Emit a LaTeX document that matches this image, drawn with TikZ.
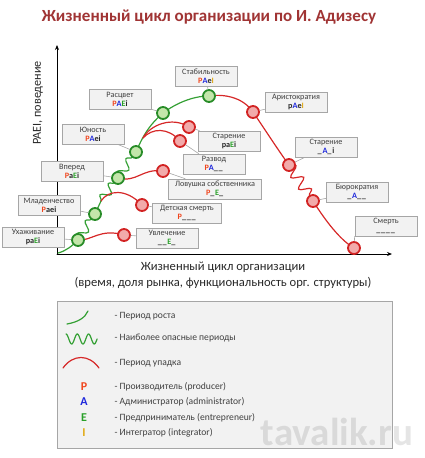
\documentclass[tikz,border=0pt]{standalone}
\usepackage{fontspec}
\setmainfont{Carlito}
\usetikzlibrary{arrows.meta,decorations.pathmorphing}

\definecolor{titlered}{RGB}{160,52,52}
\definecolor{grline}{RGB}{52,160,52}
\definecolor{grdark}{RGB}{40,140,40}
\definecolor{grfill}{RGB}{195,230,170}
\definecolor{rdline}{RGB}{214,40,40}
\definecolor{rddark}{RGB}{210,35,35}
\definecolor{rdfill}{RGB}{242,170,170}
\definecolor{boxfill}{RGB}{242,242,242}
\definecolor{boxline}{RGB}{166,166,166}
\definecolor{txtgray}{RGB}{64,64,64}
\definecolor{codegray}{RGB}{40,40,40}
\definecolor{cP}{RGB}{240,70,30}
\definecolor{cA}{RGB}{30,40,220}
\definecolor{cE}{RGB}{40,160,40}
\definecolor{cI}{RGB}{225,170,20}

\newcommand{\lP}{\textcolor{cP}{P}}
\newcommand{\lA}{\textcolor{cA}{A}}
\newcommand{\lE}{\textcolor{cE}{E}}
\newcommand{\lI}{\textcolor{cI}{I}}
\newcommand{\us}{\_\kern0.7pt}

\begin{document}
\begin{tikzpicture}[x=1pt,y=-1pt,line cap=round,
  growline/.style={draw=grline, line width=1.2pt},
  fadeline/.style={draw=rdline, line width=1.2pt},
  wig/.style 2 args={decorate, decoration={snake, segment length=#1, amplitude=#2}},
  gdot/.style={circle, draw=grdark, fill=grfill, line width=1.8pt, minimum size=12pt, inner sep=0pt},
  rdot/.style={circle, draw=rddark, fill=rdfill, line width=1.8pt, minimum size=12pt, inner sep=0pt},
  lbl/.style={draw=boxline, fill=boxfill, line width=0.7pt, minimum width=62pt, minimum height=20pt,
    inner sep=1pt, align=center, text=txtgray, font=\fontsize{8.2}{9}\selectfont},
  conn/.style={draw=gray!70, line width=0.6pt},
  axis/.style={draw=black, line width=0.8pt, -{Stealth[length=5pt,width=4pt]}},
  legtxt/.style={anchor=west, text=txtgray, font=\fontsize{9.6}{11}\selectfont},
  legkey/.style={font=\bfseries\fontsize{12}{14}\selectfont}]
\useasboundingbox (0,0) rectangle (424,458);

\node[font=\bfseries\fontsize{17}{20}\selectfont, text=titlered] (title) at (209,17)
  {Жизненный цикл организации по И. Адизесу};

% axes
\coordinate (ax0) at (57,254);
\coordinate (axy) at (57,45);
\coordinate (axx) at (392,254);
\draw[axis] (ax0) -- (axy);
\draw[axis] (ax0) -- (axx);
\node[rotate=90, text=codegray, font=\fontsize{12.2}{14}\selectfont] (ylab) at (38,103) {PAEI, поведение};
\node[align=center, text=codegray, font=\fontsize{12.6}{16}\selectfont] (xlab) at (223,275)
  {Жизненный цикл организации\\(время, доля рынка, функциональность орг. структуры)};

% points of the curve
\coordinate (o) at (58,253);
\coordinate (g1) at (78,240);
\coordinate (g2) at (95,214);
\coordinate (b2) at (101,201);
\coordinate (g3) at (118,178);
\coordinate (g4) at (136,152);
\coordinate (b4) at (143,138);
\coordinate (g5) at (163,113);
\coordinate (g6) at (209,96);
\coordinate (d1) at (253,112);
\coordinate (d2) at (289,165);
\coordinate (d3) at (313,201);
\coordinate (d4) at (354,248);
\coordinate (r1) at (124,235);
\coordinate (r2) at (142,205);
\coordinate (r3) at (163,171);
\coordinate (r4) at (180,141);
\coordinate (r5) at (189,127);

% growth
\draw[growline] (o) .. controls (66,251) and (72,246) .. (g1);
\draw[growline,wig={15.3pt}{4.5pt}] (g1) -- (g2);
\draw[growline] (g2) -- (b2);
\draw[growline,wig={14pt}{4.5pt}] (b2) -- (g3);
\draw[growline,wig={15.5pt}{4.5pt}] (g3) -- (g4);
\draw[growline] (g4) .. controls (142,138) and (148,126) .. (g5) .. controls (175,104) and (192,96) .. (g6);

% decline
\draw[fadeline] (g6) .. controls (222,94) and (242,96) .. (d1) .. controls (262,125) and (278,150) .. (d2);
\draw[fadeline,wig={14pt}{5.5pt}] (d2) -- (d3);
\draw[fadeline] (d3) .. controls (325,220) and (340,240) .. (d4);

% early deaths
\draw[fadeline] (g1) .. controls (92,241) and (100,228) .. (r1);
\draw[fadeline] (b2) .. controls (108,190) and (126,188) .. (r2);
\draw[fadeline] (g3) .. controls (137,183) and (142,168) .. (r3);
\draw[fadeline] (b4) .. controls (152,128) and (168,127) .. (r4);
\draw[fadeline] (b4) .. controls (150,125) and (172,116) .. (r5);

\node[gdot] (G1) at (g1) {};
\node[gdot] (G2) at (g2) {};
\node[gdot] (G3) at (g3) {};
\node[gdot] (G4) at (g4) {};
\node[gdot] (G5) at (g5) {};
\node[gdot] (G6) at (g6) {};
\node[rdot] (D1) at (d1) {};
\node[rdot] (D2) at (d2) {};
\node[rdot] (D3) at (d3) {};
\node[rdot] (D4) at (d4) {};
\node[rdot] (R1) at (r1) {};
\node[rdot] (R2) at (r2) {};
\node[rdot] (R3) at (r3) {};
\node[rdot] (R4) at (r4) {};
\node[rdot] (R5) at (r5) {};

% labels
\node[lbl] (ukh) at (33,237) {Ухаживание\\\textbf{\color{codegray}pa\lE i}};
\node[lbl] (mla) at (49,205) {Младенчество\\\textbf{\color{codegray}\lP aei}};
\node[lbl] (vpe) at (72,171) {Вперед\\\textbf{\color{codegray}\lP a\lE i}};
\node[lbl] (yun) at (93,134) {Юность\\\textbf{\color{codegray}\lP\lA ei}};
\node[lbl] (ras) at (120,99) {Расцвет\\\textbf{\color{codegray}\lP\lA\lE i}};
\node[lbl] (sta) at (206,76) {Стабильность\\\textbf{\color{codegray}\lP\lA e\lI}};
\node[lbl] (ari) at (296,102) {Аристократия\\\textbf{\color{codegray}p\lA e\lI}};
\node[lbl] (sto) at (326,147) {Старение\\\textbf{\color{codegray}\us\lA\us i}};
\node[lbl] (bur) at (357,192) {Бюрократия\\\textbf{\color{codegray}\us\lA\us\us}};
\node[lbl] (sme) at (386,226) {Смерть\\\textbf{\color{codegray}\us\us\us\us}};
\node[lbl] (uvl) at (167,238) {Увлечение\\\textbf{\color{codegray}\us\us\lE\us}};
\node[lbl,minimum width=69pt] (det) at (187,213) {Детская смерть\\\textbf{\color{codegray}\lP\us\us\us}};
\node[lbl,minimum width=93pt] (lov) at (215,189) {Ловушка собственника\\\textbf{\color{codegray}\lP\us\lE\us}};
\node[lbl] (raz) at (214,164) {Развод\\\textbf{\color{codegray}\lP\lA\us\us}};
\node[lbl] (stn) at (229,141) {Старение\\\textbf{\color{codegray}pa\lE i}};

\draw[conn] (ukh) -- (G1);
\draw[conn] (mla) -- (G2);
\draw[conn] (vpe) -- (G3);
\draw[conn] (yun) -- (G4);
\draw[conn] (ras) -- (G5);
\draw[conn] (sta) -- (G6);
\draw[conn] (ari) -- (D1);
\draw[conn] (sto) -- (D2);
\draw[conn] (bur) -- (D3);
\draw[conn] (sme.south west) -- (D4);
\draw[conn] (uvl) -- (R1);
\draw[conn] (det) -- (R2);
\draw[conn] (lov) -- (R3);
\draw[conn] (raz) -- (R4);
\draw[conn] (stn) -- (R5);

% legend
\node[draw=boxline, fill=boxfill, line width=0.7pt, minimum width=335pt, minimum height=147pt] (leg) at (224.5,374.5) {};
\node[inner sep=0pt, text=black, text opacity=0.1, font=\bfseries\fontsize{39}{39}\selectfont] (wm) at (337,432) {tavalik.ru};
\draw[growline] (67,324) .. controls (78,322) and (85,318) .. (88,311);
\draw[growline] plot[domain=0:2.75,samples=60,smooth] ({66+\x*11.3},{339-5*cos(\x*360)});
\draw[fadeline] (63,368) .. controls (73,354) and (89,354) .. (99,368);
\node[legtxt] (l1) at (111,316) {- Период роста};
\node[legtxt] (l2) at (111,338) {- Наиболее опасные периоды};
\node[legtxt] (l3) at (111,363) {- Период упадка};
\node[legkey, text=cP] (kP) at (84,387) {P};
\node[legkey, text=cA] (kA) at (84,402) {A};
\node[legkey, text=cE] (kE) at (84,418) {E};
\node[legkey, text=cI] (kI) at (84,433) {I};
\node[legtxt] (l4) at (111,387) {- Производитель (producer)};
\node[legtxt] (l5) at (111,402) {- Администратор (administrator)};
\node[legtxt] (l6) at (111,418) {- Предприниматель (entrepreneur)};
\node[legtxt] (l7) at (111,433) {- Интегратор (integrator)};
\end{tikzpicture}
\end{document}
